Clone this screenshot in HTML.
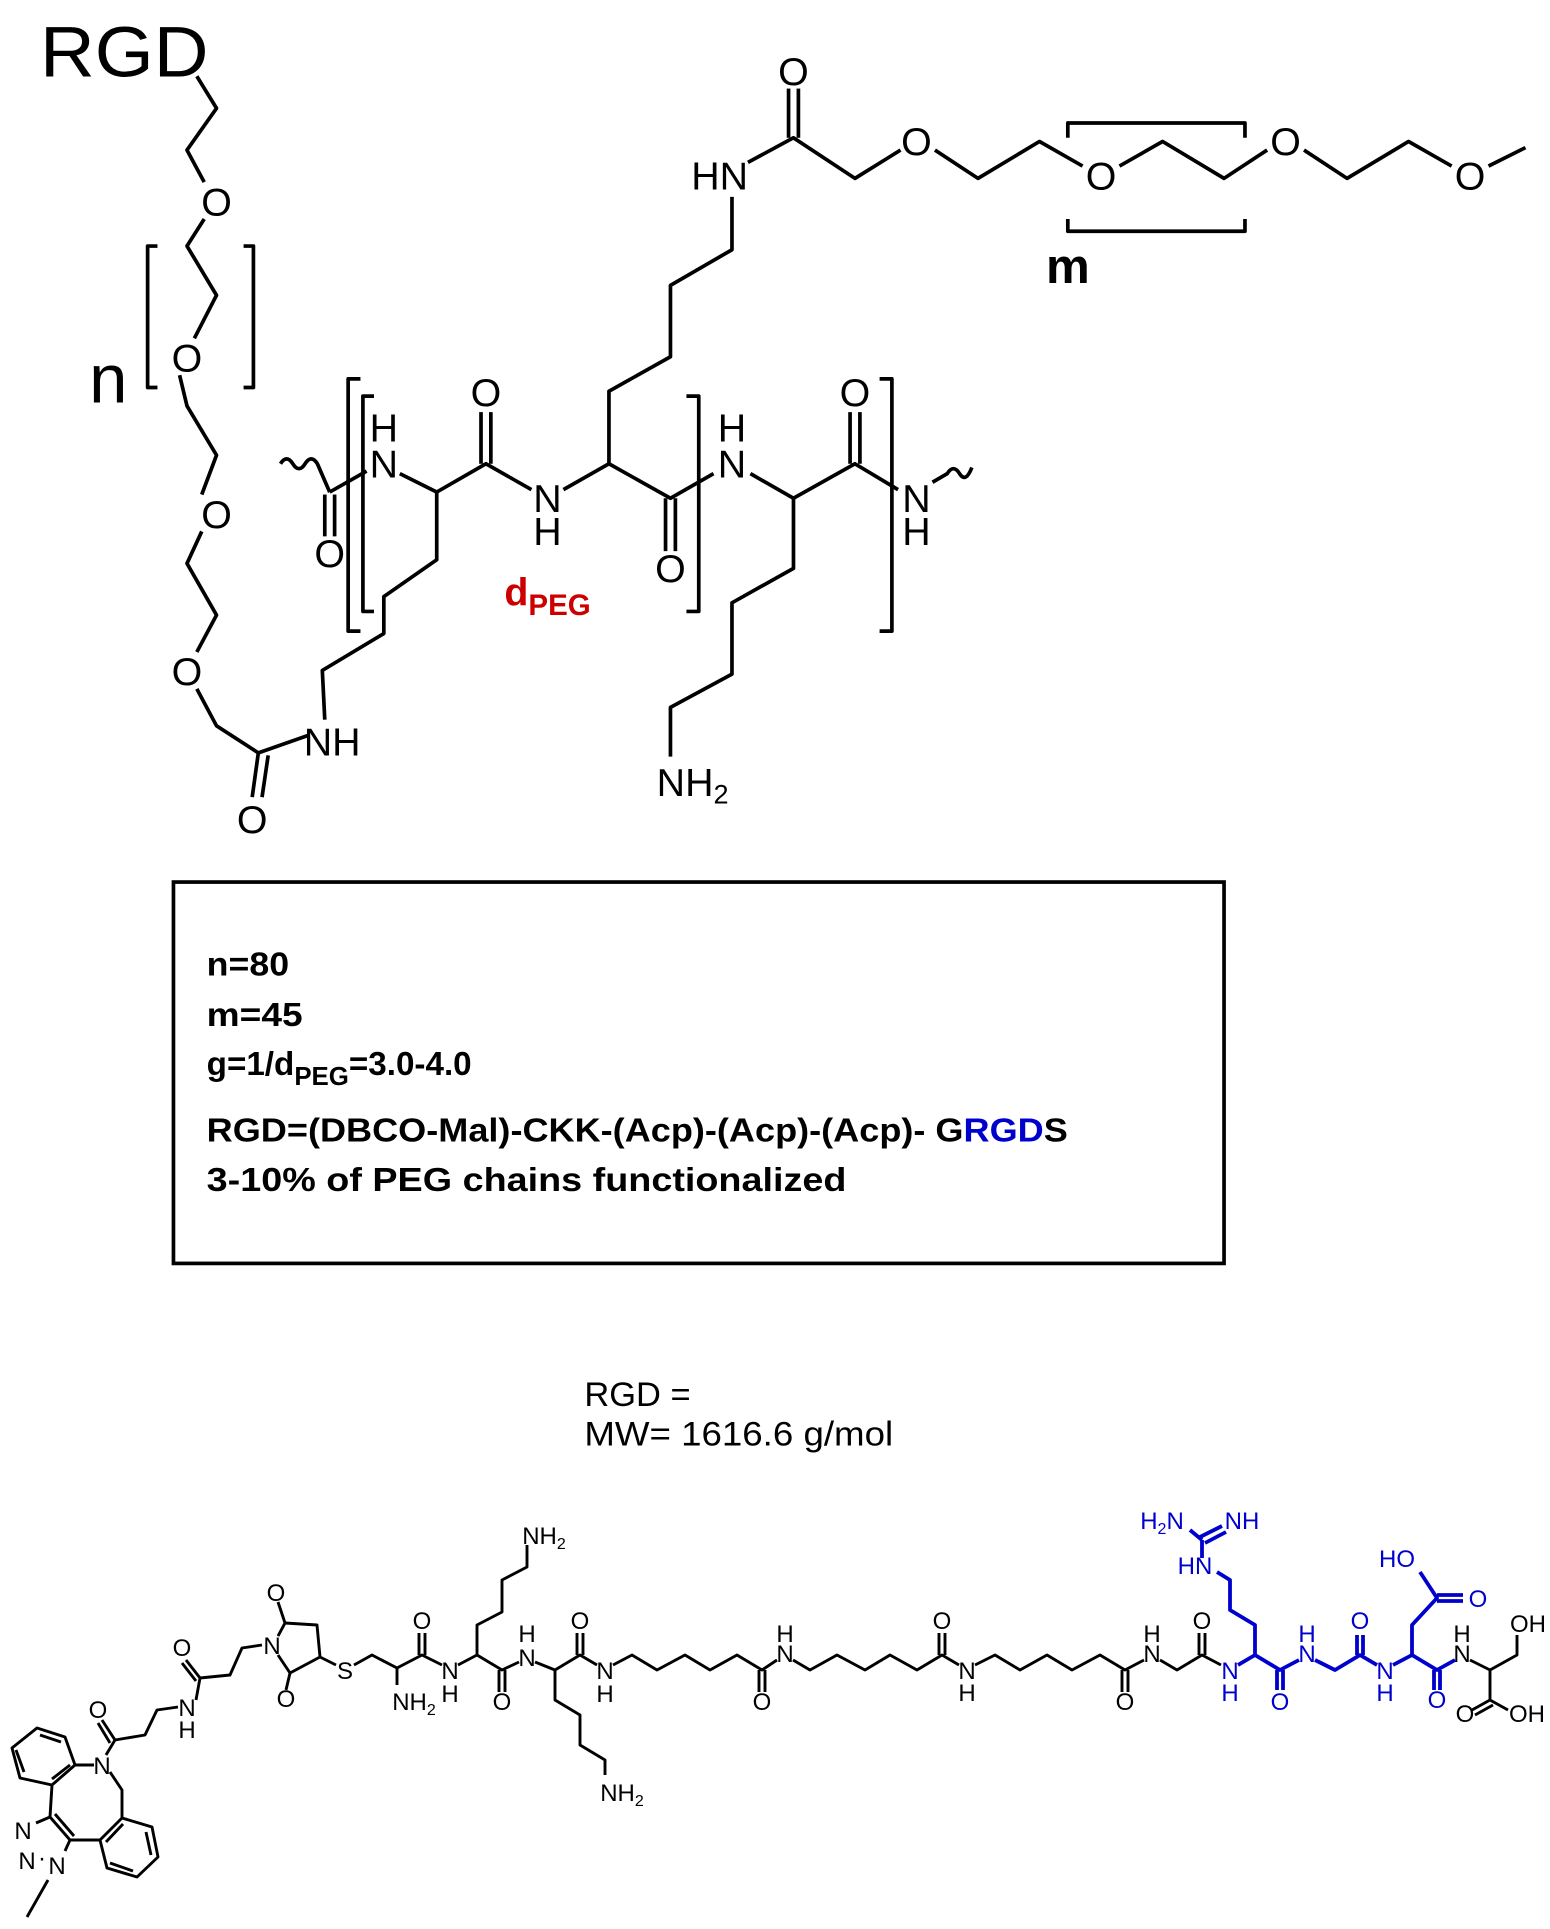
<!DOCTYPE html>
<html><head><meta charset="utf-8"><style>
html,body{margin:0;padding:0;background:#fff;}
svg{display:block;}
text{font-family:"Liberation Sans",sans-serif;}
</style></head><body>
<svg width="1550" height="1929" viewBox="0 0 1550 1929" xmlns="http://www.w3.org/2000/svg">
<g transform="scale(1.2302)">
<g fill="none" stroke="#000" stroke-width="3" stroke-linejoin="round">
<polyline points="160,62 176,88 152,122 166,148"/>
<polyline points="166,178 152,200 176,240 158,275"/>
<polyline points="146,305 152,330 176,370 164,402"/>
<polyline points="164,432 152,458 176,500 160,530"/>
<polyline points="160,560 176,590 210,612 250,598"/>
<line x1="210" y1="612" x2="205" y2="648"/><line x1="218" y1="614" x2="213" y2="648"/>
<polyline points="264,585 262,545 312,515 312,485 355,455 355,400"/>
<path d="M228,377 q5,-8 10,0 q5,8 10,0 q5,-8 10,0 L268,400"/>
<polyline points="268,400 298,383"/>
<line x1="264" y1="402" x2="264" y2="436"/><line x1="272" y1="402" x2="272" y2="436"/>
<polyline points="325,385 355,400 395,377 432,398"/>
<line x1="391" y1="377" x2="391" y2="335"/><line x1="399" y1="377" x2="399" y2="335"/>
<polyline points="458,398 495,377 545,405 580,385"/>
<line x1="541" y1="405" x2="541" y2="448"/><line x1="549" y1="405" x2="549" y2="448"/>
<polyline points="495,377 495,318 545,290 545,232 595,203 595,160"/>
<polyline points="610,385 645,405 695,377 730,398"/>
<line x1="691" y1="377" x2="691" y2="335"/><line x1="699" y1="377" x2="699" y2="335"/>
<path d="M758,392 L770,385 q5,-8 10,0 q5,8 10,-5"/>
<polyline points="645,405 645,462 595,490 595,548 545,575 545,615"/>
<polyline points="608,132 645,112 695,145 732,122"/>
<line x1="641" y1="112" x2="641" y2="72"/><line x1="649" y1="112" x2="649" y2="72"/>
<polyline points="760,122 795,145 845,115 880,135"/>
<polyline points="910,135 945,115 995,145 1030,122"/>
<polyline points="1060,122 1095,145 1145,115 1180,135"/>
<polyline points="1210,135 1240,120"/>
<polyline points="868,112 868,100 1012,100 1012,112"/>
<polyline points="868,178 868,188 1012,188 1012,178"/>
<polyline points="128,200 120,200 120,315 128,315"/>
<polyline points="198,200 206,200 206,315 198,315"/>
<polyline points="293,308 283,308 283,513 293,513"/>
<polyline points="304,322 295,322 295,497 304,497"/>
<polyline points="558,322 568,322 568,497 558,497"/>
<polyline points="715,308 725,308 725,513 715,513"/>
</g>
<g font-size="32" fill="#000" text-anchor="middle">
<text x="101" y="62" font-size="58" text-anchor="middle" textLength="137" lengthAdjust="spacingAndGlyphs">RGD</text>
<text x="176" y="175">O</text><text x="152" y="302">O</text><text x="176" y="429">O</text><text x="152" y="557">O</text>
<text x="205" y="677">O</text><text x="270" y="614">NH</text>
<text x="268" y="461">O</text>
<text x="312" y="359">H</text><text x="312" y="388">N</text>
<text x="395" y="330">O</text>
<text x="445" y="416">N</text><text x="445" y="443">H</text>
<text x="545" y="473">O</text>
<text x="595" y="359">H</text><text x="595" y="388">N</text>
<text x="695" y="330">O</text>
<text x="745" y="416">N</text><text x="745" y="443">H</text>
<text x="563" y="647">NH<tspan font-size="22" dy="6">2</tspan></text>
<text x="585" y="154">HN</text>
<text x="645" y="69">O</text>
<text x="745" y="126">O</text><text x="895" y="154">O</text><text x="1045" y="126">O</text><text x="1195" y="154">O</text>
<text x="868" y="230" font-size="40" font-weight="bold">m</text>
<text x="88" y="327" font-size="56">n</text>
<text x="410" y="492" font-size="32" font-weight="bold" fill="#cc0000" text-anchor="start">d<tspan font-size="24" dy="8">PEG</tspan></text>
</g>
<rect x="141" y="717" width="854" height="310" fill="none" stroke="#000" stroke-width="3"/>
<g font-size="27" font-weight="bold" fill="#000">
<text x="168" y="793" textLength="67" lengthAdjust="spacingAndGlyphs">n=80</text>
<text x="168" y="834" textLength="78" lengthAdjust="spacingAndGlyphs">m=45</text>
<text x="168" y="874">g=1/d<tspan font-size="21" dy="8">PEG</tspan><tspan dy="-8">=3.0-4.0</tspan></text>
<text x="168" y="928" textLength="700" lengthAdjust="spacingAndGlyphs">RGD=(DBCO-Mal)-CKK-(Acp)-(Acp)-(Acp)- G<tspan fill="#0000cc">RGD</tspan>S</text>
<text x="168" y="968" textLength="520" lengthAdjust="spacingAndGlyphs">3-10% of PEG chains functionalized</text>
</g>
<g font-size="28" fill="#000">
<text x="475" y="1143">RGD =</text>
<text x="475" y="1175" textLength="251" lengthAdjust="spacingAndGlyphs">MW= 1616.6 g/mol</text>
</g>
</g>
<g fill="none" stroke="#000" stroke-width="2.9" stroke-linejoin="round">
<line x1="27" y1="1917" x2="48" y2="1880"/>
<polygon points="37,1728 65,1737 75,1765 52,1785 20,1778 12,1748"/>
<line x1="40" y1="1735" x2="61" y2="1742"/><line x1="24" y1="1772" x2="16" y2="1750"/><line x1="70" y1="1765" x2="52" y2="1779"/>
<line x1="52" y1="1785" x2="50" y2="1817"/>
<line x1="50" y1="1817" x2="70" y2="1840"/><line x1="55" y1="1814" x2="74" y2="1836"/>
<line x1="36" y1="1823" x2="50" y2="1817"/>
<line x1="70" y1="1840" x2="65" y2="1851"/>
<line x1="70" y1="1840" x2="100" y2="1840"/>
<polyline points="75,1765 94,1765"/>
<polyline points="110,1772 122,1790 122,1818"/>
<polygon points="122,1818 152,1827 158,1857 137,1877 107,1868 100,1840"/>
<line x1="146" y1="1832" x2="151" y2="1855"/><line x1="133" y1="1871" x2="110" y2="1863"/><line x1="106" y1="1842" x2="123" y2="1824"/>
<polyline points="106,1755 115,1740 145,1735 157,1710 178,1707"/>
<line x1="115" y1="1740" x2="102" y2="1720"/><line x1="110" y1="1743" x2="98" y2="1723"/>
<polyline points="196,1700 200,1678 230,1675 242,1648 262,1645"/>
<line x1="200" y1="1678" x2="186" y2="1660"/><line x1="196" y1="1681" x2="182" y2="1663"/>
<polyline points="278,1636 285,1623 317,1625 320,1657 290,1673 278,1655"/>
<line x1="285" y1="1623" x2="278" y2="1602"/><line x1="290" y1="1673" x2="286" y2="1690"/>
<polyline points="320,1657 336,1665"/>
<polyline points="354,1665 372,1655 397,1668 422,1655 442,1665"/>
<line x1="397" y1="1668" x2="397" y2="1685"/>
<line x1="419" y1="1655" x2="419" y2="1633"/><line x1="425" y1="1655" x2="425" y2="1633"/>
<polyline points="458,1665 477,1655 502,1670 519,1662"/>
<polyline points="477,1655 477,1625 502,1612 502,1580 527,1567 527,1545"/>
<line x1="499" y1="1670" x2="499" y2="1692"/><line x1="505" y1="1670" x2="505" y2="1692"/>
<polyline points="535,1662 555,1670 580,1655 597,1665"/>
<polyline points="555,1670 555,1700 580,1715 580,1745 605,1760 605,1775"/>
<line x1="577" y1="1655" x2="577" y2="1633"/><line x1="583" y1="1655" x2="583" y2="1633"/>
<polyline points="613,1665 632,1655 657,1670 685,1655 710,1670 737,1655 762,1670 777,1660"/>
<line x1="759" y1="1670" x2="759" y2="1692"/><line x1="765" y1="1670" x2="765" y2="1692"/>
<polyline points="793,1660 810,1670 837,1655 865,1670 890,1655 917,1670 942,1655 959,1665"/>
<line x1="939" y1="1655" x2="939" y2="1633"/><line x1="945" y1="1655" x2="945" y2="1633"/>
<polyline points="975,1665 995,1655 1020,1670 1047,1655 1072,1670 1100,1655 1125,1670 1144,1660"/>
<line x1="1122" y1="1670" x2="1122" y2="1692"/><line x1="1128" y1="1670" x2="1128" y2="1692"/>
<polyline points="1160,1660 1177,1670 1202,1655 1221,1665"/>
<line x1="1199" y1="1655" x2="1199" y2="1633"/><line x1="1205" y1="1655" x2="1205" y2="1633"/>
<polyline points="1470,1660 1490,1670 1517,1655 1517,1635"/>
<line x1="1490" y1="1670" x2="1490" y2="1700"/>
<line x1="1490" y1="1700" x2="1472" y2="1710"/><line x1="1493" y1="1705" x2="1475" y2="1715"/>
<line x1="1490" y1="1700" x2="1508" y2="1710"/>
</g>
<g fill="none" stroke="#0000cc" stroke-width="3.8" stroke-linejoin="round">
<polyline points="1238,1665 1255,1655 1280,1670 1299,1660"/>
<polyline points="1255,1655 1255,1625 1230,1610 1230,1580 1217,1572"/>
<line x1="1202" y1="1558" x2="1202" y2="1540"/>
<line x1="1202" y1="1540" x2="1190" y2="1530"/>
<line x1="1200" y1="1537" x2="1222" y2="1526"/><line x1="1205" y1="1543" x2="1226" y2="1532"/>
<line x1="1277" y1="1670" x2="1277" y2="1690"/><line x1="1283" y1="1670" x2="1283" y2="1690"/>
<polyline points="1315,1660 1335,1670 1360,1655 1377,1665"/>
<line x1="1357" y1="1655" x2="1357" y2="1635"/><line x1="1363" y1="1655" x2="1363" y2="1635"/>
<polyline points="1393,1665 1412,1655 1437,1670 1455,1660"/>
<polyline points="1412,1655 1412,1625 1437,1598 1420,1572"/>
<line x1="1437" y1="1595" x2="1463" y2="1595"/><line x1="1437" y1="1601" x2="1463" y2="1601"/>
<line x1="1434" y1="1670" x2="1434" y2="1690"/><line x1="1440" y1="1670" x2="1440" y2="1690"/>
</g>
<g font-size="24" fill="#000" text-anchor="middle">
<text x="23" y="1839">N</text><text x="27" y="1869">N</text><text x="42" y="1866">·</text><text x="57" y="1874">N</text>
<text x="102" y="1774">N</text>
<text x="98" y="1718">O</text>
<text x="187" y="1716">N</text><text x="187" y="1738">H</text>
<text x="182" y="1656">O</text>
<text x="272" y="1654">N</text>
<text x="276" y="1601">O</text><text x="286" y="1707">O</text>
<text x="345" y="1679">S</text>
<text x="414" y="1710">NH<tspan font-size="16" dy="5">2</tspan></text>
<text x="422" y="1629">O</text>
<text x="450" y="1679">N</text><text x="450" y="1702">H</text>
<text x="544" y="1544">NH<tspan font-size="16" dy="5">2</tspan></text>
<text x="502" y="1710">O</text>
<text x="527" y="1666">N</text><text x="527" y="1642">H</text>
<text x="622" y="1801">NH<tspan font-size="16" dy="5">2</tspan></text>
<text x="580" y="1629">O</text>
<text x="605" y="1679">N</text><text x="605" y="1702">H</text>
<text x="762" y="1710">O</text>
<text x="785" y="1662">N</text><text x="785" y="1642">H</text>
<text x="942" y="1629">O</text>
<text x="967" y="1679">N</text><text x="967" y="1701">H</text>
<text x="1125" y="1710">O</text>
<text x="1152" y="1662">N</text><text x="1152" y="1642">H</text>
<text x="1202" y="1629">O</text>
<text x="1462" y="1662">N</text><text x="1462" y="1642">H</text>
<text x="1528" y="1632">OH</text>
<text x="1465" y="1722">O</text><text x="1527" y="1722">OH</text>
</g>
<g font-size="24" fill="#0000cc" text-anchor="middle">
<text x="1230" y="1679">N</text><text x="1230" y="1701">H</text>
<text x="1195" y="1574">HN</text>
<text x="1162" y="1529">H<tspan font-size="16" dy="5">2</tspan><tspan dy="-5">N</tspan></text>
<text x="1242" y="1529">NH</text>
<text x="1280" y="1710">O</text>
<text x="1307" y="1662">N</text><text x="1307" y="1642">H</text>
<text x="1360" y="1629">O</text>
<text x="1385" y="1679">N</text><text x="1385" y="1701">H</text>
<text x="1397" y="1567">HO</text>
<text x="1478" y="1607">O</text>
<text x="1437" y="1708">O</text>
</g>
</svg>
</body></html>
